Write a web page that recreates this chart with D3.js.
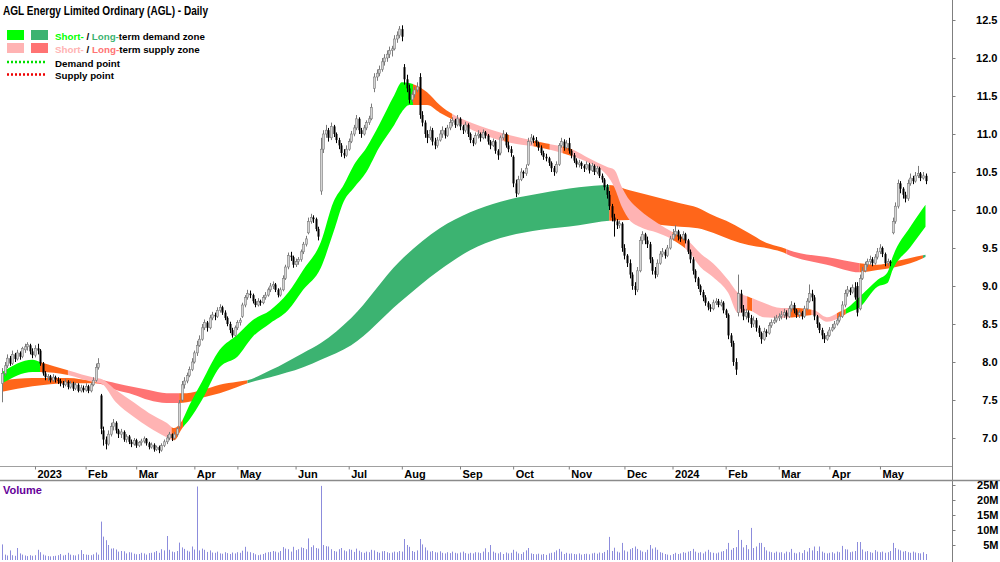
<!DOCTYPE html>
<html><head><meta charset="utf-8">
<script src="https://cdn.jsdelivr.net/npm/d3@7"></script>
<style>body{margin:0;background:#fff}svg{display:block;font-family:"Liberation Sans",Arial,sans-serif}</style>
</head><body><svg id="c" width="1000" height="562"></svg>
<script>
// ---------- DATA ----------
// daily candles [open, high, low, close], trading days from 12 Dec 2022 to 27 May 2024
const candles = [
[7.72,7.92,7.47,7.85],[7.85,8.0,7.82,7.95],[7.95,8.1,7.92,8.05],[8.05,8.08,7.95,7.98],[7.98,8.15,7.96,8.1],[8.1,8.12,8.0,8.04],[8.04,8.16,8.02,8.12],[8.12,8.14,8.03,8.07],[8.07,8.2,8.05,8.18],[8.16,8.24,8.12,8.2],
[8.2,8.26,8.15,8.23],[8.22,8.24,8.1,8.14],[8.14,8.18,8.05,8.09],[8.09,8.22,8.06,8.18],[8.18,8.24,8.1,8.15],[8.15,8.17,7.95,7.98],[7.98,8.0,7.82,7.85],[7.85,7.88,7.76,7.8],[7.8,7.84,7.75,7.81],[7.81,7.83,7.73,7.76],
[7.76,7.84,7.74,7.8],[7.8,7.82,7.73,7.77],[7.77,7.8,7.71,7.75],[7.75,7.78,7.68,7.72],[7.72,7.75,7.66,7.7],[7.7,7.78,7.68,7.74],[7.74,7.76,7.64,7.67],[7.67,7.75,7.65,7.72],[7.72,7.74,7.62,7.65],[7.65,7.73,7.63,7.7],
[7.7,7.72,7.6,7.62],[7.62,7.7,7.6,7.66],[7.66,7.69,7.6,7.63],[7.63,7.72,7.61,7.68],[7.68,7.7,7.59,7.62],[7.62,7.73,7.6,7.7],[7.7,7.8,7.68,7.76],[7.76,7.98,7.74,7.93],[7.93,8.05,7.9,7.98],[7.56,7.58,7.05,7.12],
[7.1,7.15,6.9,6.98],[6.98,7.02,6.85,6.92],[6.92,7.1,6.9,7.05],[7.05,7.2,7.02,7.15],[7.15,7.25,7.1,7.2],[7.2,7.22,7.06,7.1],[7.1,7.12,7.0,7.05],[7.05,7.12,7.0,7.08],[7.08,7.1,6.95,6.98],[6.98,7.05,6.94,7.02],
[7.02,7.04,6.92,6.95],[6.95,6.98,6.88,6.92],[6.92,7.0,6.9,6.97],[6.97,6.99,6.87,6.9],[6.9,6.96,6.88,6.94],[6.94,6.99,6.9,6.96],[6.96,7.02,6.93,6.99],[6.99,7.0,6.9,6.93],[6.93,6.95,6.85,6.88],[6.88,6.94,6.86,6.91],
[6.91,6.93,6.82,6.85],[6.85,6.9,6.83,6.88],[6.88,6.9,6.8,6.84],[6.84,6.93,6.82,6.9],[6.9,6.98,6.88,6.95],[6.95,7.04,6.92,7.0],[7.0,7.08,6.97,7.05],[7.05,7.06,6.96,7.0],[7.0,7.08,6.98,7.05],[7.05,7.14,7.02,7.12],
[7.15,7.5,7.12,7.46],[7.5,7.75,7.48,7.7],[7.7,7.8,7.65,7.75],[7.75,7.86,7.72,7.82],[7.82,7.94,7.8,7.9],[7.9,8.05,7.88,8.0],[8.0,8.15,7.98,8.12],[8.12,8.28,8.08,8.22],[8.22,8.35,8.2,8.3],[8.3,8.5,8.28,8.45],
[8.45,8.56,8.42,8.52],[8.52,8.54,8.4,8.45],[8.45,8.62,8.43,8.58],[8.58,8.66,8.55,8.62],[8.62,8.65,8.55,8.6],[8.6,8.72,8.58,8.68],[8.68,8.76,8.65,8.72],[8.72,8.74,8.62,8.65],[8.65,8.68,8.55,8.58],[8.58,8.6,8.47,8.5],
[8.5,8.53,8.38,8.42],[8.42,8.45,8.32,8.35],[8.35,8.48,8.33,8.45],[8.45,8.55,8.42,8.52],[8.52,8.58,8.48,8.55],[8.6,8.78,8.58,8.75],[8.75,8.88,8.72,8.85],[8.85,8.95,8.82,8.9],[8.9,8.94,8.84,8.88],[8.88,8.9,8.77,8.8],
[8.8,8.83,8.72,8.75],[8.75,8.84,8.73,8.8],[8.8,8.82,8.74,8.78],[8.78,8.88,8.76,8.85],[8.85,8.92,8.82,8.88],[8.88,8.98,8.86,8.95],[8.95,9.04,8.92,9.0],[9.0,9.06,8.96,9.02],[9.02,9.04,8.92,8.95],[8.95,8.97,8.85,8.88],
[8.88,8.98,8.86,8.95],[8.95,9.14,8.93,9.1],[9.1,9.28,9.08,9.25],[9.25,9.44,9.22,9.4],[9.4,9.45,9.33,9.38],[9.38,9.4,9.24,9.28],[9.28,9.36,9.25,9.32],[9.32,9.38,9.28,9.35],[9.35,9.48,9.32,9.45],[9.45,9.58,9.42,9.55],
[9.55,9.66,9.52,9.62],[9.7,9.9,9.68,9.85],[9.85,9.95,9.82,9.9],[9.9,9.93,9.83,9.88],[9.88,9.9,9.72,9.75],[9.75,9.78,9.6,9.65],[10.25,10.95,10.2,10.8],[10.8,11.05,10.75,11.0],[11.0,11.12,10.95,11.05],[11.05,11.08,10.9,10.95],
[10.95,11.15,10.92,11.1],[11.1,11.12,10.96,11.0],[11.0,11.02,10.88,10.92],[10.92,10.95,10.8,10.85],[10.85,10.88,10.7,10.75],[10.75,10.8,10.68,10.72],[10.72,10.85,10.7,10.8],[10.8,10.94,10.78,10.9],[10.9,11.04,10.88,11.0],[11.0,11.12,10.97,11.08],
[11.08,11.25,11.05,11.2],[11.2,11.22,11.0,11.05],[11.05,11.08,10.95,11.0],[11.0,11.12,10.98,11.08],[11.08,11.18,11.05,11.15],[11.15,11.24,11.12,11.2],[11.2,11.4,11.18,11.35],[11.6,11.8,11.55,11.75],[11.75,11.85,11.7,11.8],[11.8,11.9,11.76,11.85],
[11.85,12.0,11.82,11.95],[11.95,12.05,11.9,12.0],[12.0,12.1,11.95,12.05],[12.05,12.15,12.0,12.1],[12.1,12.16,12.02,12.12],[12.12,12.3,12.1,12.25],[12.25,12.35,12.2,12.3],[12.3,12.42,12.26,12.38],[12.38,12.43,12.22,12.28],[11.88,11.92,11.65,11.72],
[11.72,11.78,11.55,11.6],[11.6,11.65,11.4,11.45],[11.45,11.56,11.42,11.52],[11.52,11.62,11.48,11.58],[11.58,11.68,11.55,11.62],[11.75,11.8,11.2,11.25],[11.25,11.3,11.1,11.15],[11.15,11.18,10.95,11.0],[11.0,11.05,10.88,10.95],[10.95,11.1,10.92,11.05],
[11.05,11.08,10.85,10.9],[10.9,10.95,10.8,10.85],[10.85,10.96,10.82,10.92],[10.92,11.05,10.9,11.0],[11.0,11.1,10.95,11.05],[11.05,11.08,10.94,10.98],[10.98,11.12,10.96,11.08],[11.08,11.2,11.05,11.15],[11.15,11.22,11.1,11.18],[11.18,11.2,11.08,11.12],
[11.12,11.25,11.1,11.2],[11.2,11.22,11.05,11.1],[11.1,11.12,11.0,11.05],[11.05,11.16,11.02,11.12],[11.12,11.14,10.96,11.0],[11.0,11.02,10.88,10.92],[10.92,10.95,10.84,10.88],[10.88,11.02,10.86,10.98],[10.98,11.05,10.94,11.0],[11.0,11.02,10.9,10.95],
[10.95,11.06,10.93,11.02],[11.02,11.04,10.94,10.98],[10.98,11.0,10.86,10.9],[10.9,10.92,10.8,10.85],[10.85,10.94,10.83,10.9],[10.9,10.92,10.74,10.78],[10.78,10.8,10.66,10.72],[10.75,10.98,10.72,10.95],[10.95,11.05,10.92,11.0],[11.0,11.02,10.82,10.85],
[10.85,10.9,10.76,10.8],[10.8,10.84,10.7,10.75],[10.7,10.72,10.3,10.35],[10.35,10.4,10.17,10.22],[10.22,10.45,10.2,10.4],[10.4,10.55,10.38,10.5],[10.5,10.52,10.42,10.48],[10.48,10.6,10.45,10.55],[10.6,10.95,10.58,10.9],[10.9,11.0,10.86,10.95],
[10.95,10.98,10.88,10.92],[10.92,10.96,10.84,10.88],[10.88,10.9,10.78,10.82],[10.82,10.85,10.72,10.75],[10.75,10.78,10.66,10.7],[10.7,10.74,10.64,10.68],[10.68,10.7,10.58,10.62],[10.62,10.64,10.5,10.55],[10.55,10.58,10.45,10.5],[10.5,10.64,10.48,10.6],
[10.6,10.88,10.58,10.85],[10.85,10.95,10.82,10.9],[10.9,10.93,10.78,10.82],[10.82,10.92,10.8,10.88],[10.88,10.95,10.74,10.78],[10.78,10.8,10.68,10.72],[10.72,10.75,10.62,10.65],[10.65,10.68,10.56,10.6],[10.6,10.66,10.56,10.62],[10.62,10.64,10.54,10.58],
[10.58,10.6,10.5,10.55],[10.55,10.64,10.53,10.6],[10.6,10.62,10.48,10.52],[10.52,10.62,10.5,10.58],[10.58,10.6,10.46,10.5],[10.5,10.58,10.47,10.55],[10.55,10.57,10.42,10.45],[10.45,10.48,10.36,10.4],[10.4,10.42,10.26,10.3],[10.3,10.34,10.15,10.2],
[10.2,10.25,10.0,10.05],[10.05,10.08,9.85,9.9],[9.9,9.95,9.65,9.85],[9.85,9.88,9.75,9.8],[9.8,9.86,9.76,9.82],[9.82,9.84,9.45,9.5],[9.5,9.55,9.35,9.4],[9.4,9.42,9.25,9.3],[9.3,9.35,9.1,9.15],[9.15,9.18,8.95,9.0],
[9.0,9.05,8.88,8.95],[8.95,9.25,8.92,9.2],[9.2,9.65,9.18,9.6],[9.6,9.72,9.55,9.68],[9.68,9.7,9.55,9.6],[9.6,9.65,9.5,9.55],[9.55,9.58,9.3,9.35],[9.35,9.38,9.15,9.2],[9.2,9.25,9.1,9.15],[9.15,9.35,9.12,9.3],
[9.3,9.46,9.28,9.42],[9.42,9.5,9.38,9.45],[9.45,9.48,9.36,9.4],[9.4,9.54,9.38,9.5],[9.5,9.66,9.48,9.62],[9.62,9.75,9.6,9.68],[9.68,9.8,9.65,9.72],[9.72,9.74,9.6,9.65],[9.65,9.68,9.58,9.62],[9.62,9.72,9.6,9.68],
[9.68,9.7,9.56,9.6],[9.6,9.62,9.42,9.45],[9.45,9.48,9.3,9.35],[9.35,9.38,9.15,9.2],[9.2,9.22,9.05,9.1],[9.1,9.12,8.96,9.0],[9.0,9.02,8.88,8.92],[8.92,8.95,8.8,8.85],[8.85,8.88,8.74,8.78],[8.78,8.8,8.68,8.72],
[8.72,8.76,8.66,8.7],[8.7,8.82,8.68,8.78],[8.78,8.84,8.75,8.8],[8.8,8.83,8.72,8.75],[8.75,8.82,8.73,8.78],[8.78,8.8,8.64,8.68],[8.68,8.7,8.58,8.62],[8.62,8.64,8.3,8.35],[8.35,8.38,8.2,8.25],[8.25,8.28,7.95,8.0],
[8.0,8.05,7.83,7.9],[8.65,9.15,8.6,8.9],[8.9,8.95,8.65,8.7],[8.7,8.75,8.55,8.6],[8.6,8.7,8.56,8.65],[8.65,8.68,8.52,8.58],[8.58,8.62,8.45,8.5],[8.5,8.6,8.46,8.55],[8.55,8.58,8.4,8.45],[8.45,8.48,8.33,8.38],
[8.38,8.4,8.24,8.3],[8.3,8.45,8.28,8.4],[8.4,8.43,8.33,8.38],[8.38,8.52,8.36,8.48],[8.48,8.56,8.45,8.52],[8.52,8.6,8.5,8.55],[8.55,8.62,8.52,8.58],[8.58,8.64,8.54,8.6],[8.6,8.67,8.56,8.62],[8.62,8.7,8.58,8.65],
[8.65,8.68,8.56,8.6],[8.6,8.74,8.58,8.7],[8.7,8.8,8.66,8.75],[8.75,8.78,8.64,8.68],[8.68,8.7,8.58,8.62],[8.62,8.68,8.58,8.65],[8.65,8.67,8.56,8.6],[8.6,8.74,8.58,8.7],[8.7,8.84,8.68,8.8],[8.8,9.02,8.78,8.9],
[8.9,8.95,8.8,8.85],[8.85,8.88,8.55,8.6],[8.6,8.62,8.45,8.5],[8.5,8.52,8.38,8.42],[8.42,8.45,8.3,8.35],[8.35,8.38,8.25,8.3],[8.3,8.4,8.28,8.35],[8.35,8.46,8.33,8.42],[8.42,8.5,8.4,8.45],[8.45,8.54,8.43,8.5],
[8.5,8.58,8.48,8.55],[8.55,8.64,8.52,8.6],[8.6,8.8,8.58,8.75],[8.75,8.95,8.72,8.9],[8.9,9.0,8.86,8.95],[8.95,8.98,8.88,8.92],[8.92,9.02,8.9,8.98],[8.98,9.05,8.82,8.85],[9.0,9.05,8.6,8.65],[8.7,9.15,8.68,9.1],
[9.1,9.25,9.08,9.2],[9.2,9.32,9.18,9.28],[9.28,9.36,9.25,9.32],[9.32,9.4,9.28,9.35],[9.35,9.38,9.26,9.3],[9.3,9.42,9.28,9.38],[9.38,9.5,9.35,9.45],[9.45,9.55,9.42,9.5],[9.5,9.52,9.38,9.42],[9.42,9.44,9.26,9.3],
[9.3,9.36,9.27,9.32],[9.32,9.34,9.26,9.3],[9.7,9.9,9.68,9.85],[9.85,10.1,9.82,10.05],[10.05,10.4,10.02,10.35],[10.35,10.38,10.22,10.28],[10.28,10.3,10.15,10.2],[10.2,10.24,10.1,10.15],[10.15,10.4,10.12,10.35],[10.35,10.48,10.32,10.42],
[10.42,10.45,10.34,10.38],[10.38,10.5,10.36,10.45],[10.45,10.58,10.42,10.48],[10.48,10.5,10.38,10.42],[10.42,10.5,10.4,10.45],[10.45,10.48,10.34,10.38]
];
// daily volume, millions of shares
const volumes = [
5.2,1.8,1.5,3.2,1.6,1.4,4.0,2.2,1.8,1.5, 1.3,1.6,1.4,1.6,3.4,2.6,1.8,1.5,1.3,1.2,
1.3,1.4,1.6,2.0,1.5,1.7,2.4,1.8,1.6,1.5, 1.9,3.3,2.0,1.8,1.7,1.6,1.9,2.5,1.8,12.8,
7.8,6.6,5.0,3.8,3.9,3.5,2.8,3.0,2.9,2.2, 2.6,2.5,2.1,1.9,2.0,2.4,2.2,1.8,2.3,2.4,
2.6,3.0,2.4,3.6,3.2,8.0,3.4,2.8,2.6,3.0, 5.8,4.2,3.7,3.1,2.8,4.5,3.5,24.5,3.2,3.8,
3.4,2.7,3.2,2.5,2.4,2.8,2.2,2.1,2.6,2.3, 2.0,2.5,2.2,2.6,2.4,3.1,4.4,2.8,2.6,2.3,
1.9,1.6,1.8,2.0,2.4,2.6,2.7,3.0,2.8,2.5, 3.0,4.3,3.8,3.6,2.8,4.4,3.3,3.6,4.2,4.0,
3.6,7.2,4.3,4.9,4.0,3.8,24.7,5.0,4.6,4.5, 3.6,3.0,2.8,3.6,4.0,3.2,2.9,3.6,3.4,2.7,
3.8,3.1,2.6,2.4,2.8,2.6,3.4,3.2,2.7,2.4, 2.9,3.0,2.6,2.3,2.5,2.8,2.6,3.0,2.8,7.0,
5.0,4.4,3.0,2.7,3.2,7.0,5.2,4.2,3.2,2.8, 3.0,2.6,2.5,2.9,2.4,2.2,2.6,2.3,2.8,2.4,
2.2,2.5,2.8,2.3,2.1,2.4,2.2,2.6,2.5,2.3, 2.8,3.9,2.6,5.0,2.8,2.4,2.2,2.6,2.0,2.5,
2.2,2.4,3.4,2.8,2.2,2.0,2.6,3.2,4.0,2.2, 2.0,1.9,2.1,1.8,2.0,1.7,2.2,2.4,2.6,3.2,
3.7,2.8,2.0,2.4,2.1,2.2,2.0,1.9,2.2,1.8, 2.0,2.1,1.9,2.2,2.4,2.1,2.5,2.3,2.7,3.3,
7.7,3.0,4.1,2.8,2.5,5.7,3.2,2.8,3.6,4.0, 4.5,3.7,3.2,2.8,2.6,3.4,5.0,3.8,4.2,3.4,
2.6,2.4,2.0,1.8,1.6,2.0,2.4,2.0,2.2,2.6, 2.4,2.8,3.0,3.7,2.8,2.4,2.6,2.2,2.8,3.4,
2.6,2.4,2.2,2.5,2.8,3.0,3.6,5.7,3.4,4.0, 4.3,10.0,6.7,4.2,5.0,3.6,10.7,4.0,4.5,5.7,
5.7,4.3,3.2,2.8,2.6,2.4,2.8,2.5,2.6,2.2, 2.8,2.6,3.7,2.4,2.2,2.6,2.3,3.3,2.8,4.0,
3.2,4.5,3.0,4.5,2.8,2.4,2.2,2.4,2.6,2.2, 2.8,2.6,4.7,3.6,3.5,2.6,2.8,3.0,6.0,6.0,
3.5,2.8,3.0,2.6,2.4,3.3,2.8,2.6,2.8,2.4, 2.6,3.0,5.7,4.0,3.5,3.2,2.8,3.0,2.6,2.4,
2.8,2.5,2.3,2.2,2.6,2.0
];
// month ticks: candle index of first trading day of each month
const monthIdx = [13,33,53,76,93,116,137,158,181,202,224,246,265,286,307,327,347];
const monthLabels = ["2023","Feb","Mar","Apr","May","Jun","Jul","Aug","Sep","Oct","Nov","Dec","2024","Feb","Mar","Apr","May"];
const priceTicks = [7.0,7.5,8.0,8.5,9.0,9.5,10.0,10.5,11.0,11.5,12.0,12.5];
const volTicks = [5,10,15,20,25];
// short-term zone edges (read at candle indices)
const shortIdx = [0,12,15,26,37,39,45,52,58,65,68,71,74,79,86,93,99,106,113,119,126,131,135,139,144,149,155,158,161,168,173,181,186,200,213,226,232,239,242,245,248,252,259,265,272,276,281,287,291,295,301,308,313,321,326,331,334,339,346,350,352,359,365];
const shortTop = [7.87,8.03,8.0,7.89,7.79,7.78,7.63,7.47,7.33,7.2,7.13,7.22,7.43,7.74,8.16,8.36,8.55,8.68,8.91,9.21,9.58,10.11,10.33,10.59,10.82,11.12,11.51,11.68,11.67,11.55,11.38,11.21,11.14,10.99,10.89,10.79,10.68,10.57,10.53,10.3,10.13,10.0,9.83,9.71,9.57,9.43,9.3,9.08,8.91,8.86,8.78,8.71,8.71,8.68,8.59,8.66,8.71,8.86,9.08,9.18,9.38,9.78,10.07];
const shortBot = [7.72,7.87,7.87,7.83,7.73,7.72,7.47,7.28,7.14,7.01,6.97,7.12,7.24,7.5,7.93,8.07,8.33,8.51,8.68,8.95,9.24,9.71,10.11,10.29,10.5,10.82,11.12,11.29,11.38,11.38,11.28,11.14,11.05,10.89,10.82,10.7,10.62,10.46,10.3,10.04,9.87,9.78,9.7,9.61,9.43,9.25,9.12,8.91,8.64,8.68,8.59,8.58,8.59,8.62,8.53,8.58,8.64,8.72,8.99,9.04,9.21,9.51,9.78];
// short-term zone state by candle-index range
const shortStates = [["demand",-1,15],["contested",15,26],["supply",26,67],["contested",67,71.5],["demand",71.5,162.4],["contested",162.4,178],["supply",178,198.5],["contested",198.5,200.5],["supply",200.5,210],["contested",210,216.5],["supply",216.5,221.5],["contested",221.5,225.5],["supply",225.5,265],["contested",265,270],["supply",270,294.5],["contested",294.5,296.5],["supply",296.5,311.5],["contested",311.5,320],["supply",320,330],["contested",330,333.5],["demand",333.5,366]];
// long-term zone edges
const longIdx = [0,12,26,36,39,45,52,58,65,70,73,79,86,93,97,106,119,126,138,157,173,185,197,213,228,240,248,255,268,275,281,288,295,302,308,313,326,339,346,352,359,365];
const longTop = [7.76,7.79,7.79,7.76,7.76,7.72,7.67,7.63,7.59,7.59,7.59,7.63,7.7,7.74,7.76,7.89,8.12,8.25,8.58,9.32,9.76,9.97,10.11,10.22,10.3,10.33,10.26,10.2,10.09,10.03,9.93,9.83,9.7,9.57,9.51,9.45,9.38,9.3,9.28,9.32,9.37,9.41];
const longBot = [7.61,7.68,7.72,7.72,7.71,7.63,7.57,7.5,7.46,7.46,7.47,7.53,7.59,7.67,7.72,7.8,7.93,8.03,8.22,8.78,9.21,9.47,9.63,9.74,9.8,9.86,9.87,9.83,9.78,9.76,9.7,9.61,9.54,9.5,9.45,9.38,9.28,9.18,9.21,9.24,9.3,9.38];
const longStates = [["contested",-1,37.5],["supply",37.5,70],["contested",70,97],["demand",97,240],["contested",240,310],["supply",310,339],["contested",339,364],["demand",364,366]];

// ---------- STYLE ----------
const shortColor = {demand:"#00ff00", supply:"#ffb3b3", contested:"#ff661a"};
const longColor = {demand:"#3cb371", supply:"#ff7373", contested:"#ff661a"};

const svg = d3.select("#c");
const W = 952;
const x = d3.scaleLinear().domain([0, 365]).range([2.1, 925.5]);
const y = d3.scaleLinear().domain([7, 12.5]).range([438, 20]);
const yv = d3.scaleLinear().domain([0, 25]).range([560, 485]);

const defs = svg.append("defs");
defs.append("clipPath").attr("id","pclip").append("rect").attr("x",0).attr("y",0).attr("width",W).attr("height",466);

const plot = svg.append("g").attr("clip-path","url(#pclip)");

function drawBand(idx, top, bot, states, colors, name){
  const pts = idx.map((d,k)=>({i:d, t:top[k], b:bot[k]}));
  const area = d3.area().x(d=>x(d.i)).y0(d=>y(d.b)).y1(d=>y(d.t)).curve(d3.curveMonotoneX);
  const g = plot.append("g");
  states.forEach((s,k)=>{
    const id = name + k;
    const x0 = s[1] < 0 ? 0 : x(s[1]);
    const x1 = s[2] >= 365 ? W : x(s[2]);
    defs.append("clipPath").attr("id", id).append("rect")
      .attr("x", x0).attr("y", 0).attr("width", Math.max(0, x1 - x0)).attr("height", 466);
    g.append("path").attr("d", area(pts)).attr("fill", colors[s[0]])
      .attr("clip-path", `url(#${id})`);
  });
}
drawBand(longIdx, longTop, longBot, longStates, longColor, "lz");
drawBand(shortIdx, shortTop, shortBot, shortStates, shortColor, "sz");

// candles
const cg = plot.append("g");
candles.forEach((c,i)=>{
  const [o,h,l,cl] = c;
  const up = cl >= o;
  const cx = Math.round(x(i)) + 0.5;
  const col = up ? "#7a7a7a" : "#000";
  cg.append("line").attr("x1",cx).attr("x2",cx).attr("y1",y(h)).attr("y2",y(l)).attr("stroke",col).attr("stroke-width",1);
  const yt = y(Math.max(o,cl)), yb = y(Math.min(o,cl));
  cg.append("rect").attr("x",cx-1).attr("y",yt).attr("width",2).attr("height",Math.max(1,yb-yt))
    .attr("fill", up ? "#d4d4d4" : "#000").attr("stroke", up ? "#7a7a7a" : "none").attr("stroke-width",0.6);
});

// volume
const vg = svg.append("g");
volumes.forEach((v,i)=>{
  vg.append("rect").attr("x", Math.round(x(i))).attr("y", yv(v)).attr("width",1).attr("height", yv(0)-yv(v)).attr("fill","#8c8cdc");
});

// frame lines
svg.append("line").attr("x1",W+0.5).attr("x2",W+0.5).attr("y1",0).attr("y2",562).attr("stroke","#7f7f7f");
svg.append("line").attr("x1",0).attr("x2",W).attr("y1",466.5).attr("y2",466.5).attr("stroke","#a0a0a0");
svg.append("line").attr("x1",0).attr("x2",1000).attr("y1",480.5).attr("y2",480.5).attr("stroke","#8a8a8a").attr("stroke-width",1.6);

// date axis
const xa = svg.append("g").attr("transform","translate(0,466.5)")
  .call(d3.axisBottom(x).tickValues(monthIdx).tickFormat((d,k)=>monthLabels[k]).tickSize(3).tickSizeOuter(0));
xa.select(".domain").remove();
xa.selectAll(".tick line").attr("stroke","#7f7f7f");
xa.selectAll(".tick text").attr("text-anchor","start").attr("x",2).attr("y",4).attr("dy","0.71em")
  .attr("font-size",11).attr("font-weight","bold").attr("font-family","Liberation Sans, Arial").attr("fill","#000");

// price axis
const ya = svg.append("g").attr("transform",`translate(${W+0.5},0)`)
  .call(d3.axisRight(y).tickValues(priceTicks).tickFormat(d3.format(".1f")).tickSize(3).tickSizeOuter(0));
ya.select(".domain").remove();
ya.selectAll(".tick line").attr("stroke","#7f7f7f");
ya.selectAll(".tick text").attr("text-anchor","end").attr("x",45).attr("font-size",11).attr("font-weight","bold")
  .attr("font-family","Liberation Sans, Arial").attr("fill","#000");

// volume axis
const va = svg.append("g").attr("transform",`translate(${W+0.5},0)`)
  .call(d3.axisRight(yv).tickValues(volTicks).tickFormat(d=>d+"M").tickSize(3).tickSizeOuter(0));
va.select(".domain").remove();
va.selectAll(".tick line").attr("stroke","#7f7f7f");
va.selectAll(".tick text").attr("text-anchor","end").attr("x",46).attr("font-size",11).attr("font-weight","bold")
  .attr("font-family","Liberation Sans, Arial").attr("fill","#000");

svg.append("text").attr("x",3).attr("y",494).attr("font-size",11).attr("font-weight","bold").attr("fill","#660099").text("Volume");

// title
svg.append("text").attr("x",3).attr("y",15).attr("font-size",12).attr("font-weight","bold")
  .attr("textLength",205).attr("lengthAdjust","spacingAndGlyphs").attr("fill","#000")
  .text("AGL Energy Limited Ordinary (AGL) - Daily");

// legend
const lg = svg.append("g");
lg.append("rect").attr("x",7).attr("y",30).attr("width",17).attr("height",10).attr("fill",shortColor.demand);
lg.append("rect").attr("x",31).attr("y",30).attr("width",17).attr("height",10).attr("fill",longColor.demand);
lg.append("rect").attr("x",7).attr("y",43).attr("width",17).attr("height",10).attr("fill",shortColor.supply);
lg.append("rect").attr("x",31).attr("y",43).attr("width",17).attr("height",10).attr("fill",longColor.supply);
lg.append("line").attr("x1",7).attr("x2",45).attr("y1",62).attr("y2",62).attr("stroke","#00e000").attr("stroke-width",2.5).attr("stroke-dasharray","2,2");
lg.append("line").attr("x1",7).attr("x2",45).attr("y1",74.5).attr("y2",74.5).attr("stroke","#ee0000").attr("stroke-width",2.5).attr("stroke-dasharray","2,2");
// legend lines: separate text pieces laid out one after another, font size fitted to target width
function legText(yy, parts, len){
  const els = parts.map(p => lg.append("text").attr("y",yy).attr("font-size",12).attr("font-weight","bold")
    .attr("font-family","'Liberation Sans Narrow','Liberation Sans',Arial,sans-serif")
    .attr("fill",p[1]).attr("xml:space","preserve").style("white-space","pre").text(p[0]));
  let total = 0; els.forEach(e => total += e.node().getComputedTextLength());
  const fs = Math.min(12.5, 12 * len / total);
  let cx = 55;
  els.forEach(e => { e.attr("font-size", fs); const w = e.node().getComputedTextLength(); e.attr("x", cx); cx += w; });
}
legText(40,[["Short-",shortColor.demand],[" / ","#000"],["Long-",longColor.demand],["term demand zone","#000"]],150);
legText(52.5,[["Short-",shortColor.supply],[" / ","#000"],["Long-",longColor.supply],["term supply zone","#000"]],145);
legText(66.5,[["Demand point","#000"]],65);
legText(79,[["Supply point","#000"]],59);
</script></body></html>
